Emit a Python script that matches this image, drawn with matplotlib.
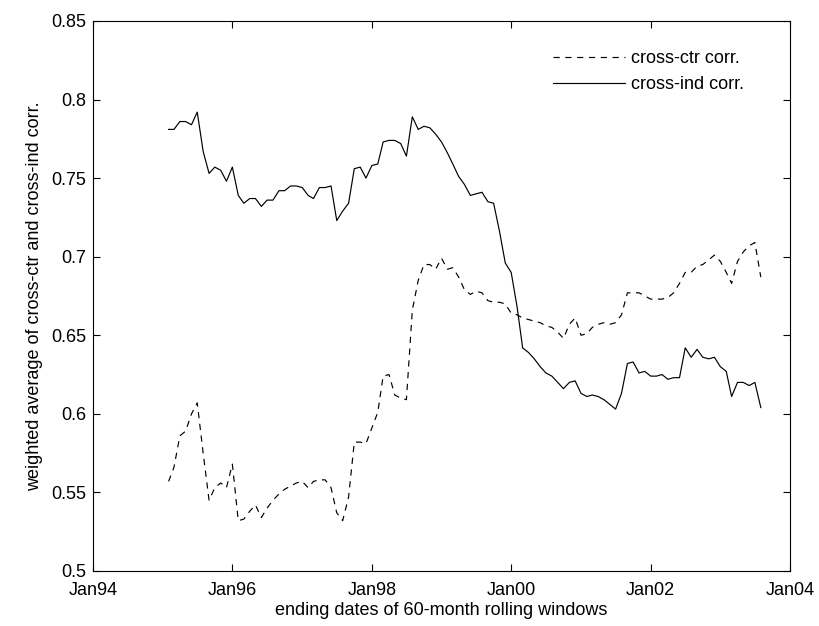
import matplotlib
matplotlib.use("Agg")
import matplotlib.pyplot as plt
import matplotlib.dates as mdates
import numpy as np
import pandas as pd

# monthly window end dates
dates = pd.date_range("1995-02-01", periods=103, freq="MS")

cross_ctr = [
    0.557, 0.566, 0.586, 0.589, 0.600, 0.607, 0.575, 0.545, 0.553, 0.556,
    0.553, 0.568, 0.532, 0.533, 0.538, 0.542, 0.534, 0.540, 0.545, 0.549,
    0.552, 0.554, 0.556, 0.557, 0.553, 0.557, 0.558, 0.558, 0.553, 0.537,
    0.532, 0.547, 0.582, 0.582, 0.581, 0.591, 0.601, 0.624, 0.625, 0.612,
    0.610, 0.609, 0.666, 0.685, 0.695, 0.695, 0.692, 0.699, 0.692, 0.693,
    0.687, 0.679, 0.676, 0.678, 0.677, 0.672, 0.671, 0.671, 0.670, 0.664,
    0.663, 0.661, 0.660, 0.659, 0.658, 0.656, 0.655, 0.652, 0.648, 0.657,
    0.661, 0.650, 0.651, 0.655, 0.657, 0.658, 0.657, 0.658, 0.663, 0.677,
    0.677, 0.677, 0.675, 0.673, 0.673, 0.673, 0.674, 0.677, 0.683, 0.690,
    0.690, 0.694, 0.695, 0.698, 0.701, 0.697, 0.690, 0.683, 0.697, 0.703,
    0.707, 0.709, 0.687,
]

cross_ind = [
    0.781, 0.781, 0.786, 0.786, 0.784, 0.792, 0.767, 0.753, 0.757, 0.755,
    0.748, 0.757, 0.739, 0.734, 0.737, 0.737, 0.732, 0.736, 0.736, 0.742,
    0.742, 0.745, 0.745, 0.744, 0.739, 0.737, 0.744, 0.744, 0.745, 0.723,
    0.729, 0.734, 0.756, 0.757, 0.750, 0.758, 0.759, 0.773, 0.774, 0.774,
    0.772, 0.764, 0.789, 0.781, 0.783, 0.782, 0.778, 0.773, 0.766, 0.759,
    0.751, 0.746, 0.739, 0.740, 0.741, 0.735, 0.734, 0.716, 0.696, 0.690,
    0.668, 0.642, 0.639, 0.635, 0.630, 0.626, 0.624, 0.620, 0.616, 0.620,
    0.621, 0.613, 0.611, 0.612, 0.611, 0.609, 0.606, 0.603, 0.613, 0.632,
    0.633, 0.626, 0.627, 0.624, 0.624, 0.625, 0.622, 0.623, 0.623, 0.642,
    0.636, 0.641, 0.636, 0.635, 0.636, 0.630, 0.627, 0.611, 0.620, 0.620,
    0.618, 0.620, 0.604,
]

y_ticks = np.arange(0.5, 0.851, 0.05)
y_tick_labels = ["0.5", "0.55", "0.6", "0.65", "0.7", "0.75", "0.8", "0.85"]

plt.rcParams["font.family"] = ["Liberation Sans", "DejaVu Sans"]
plt.rcParams["font.size"] = 13
plt.rcParams["lines.scale_dashes"] = False

fig = plt.figure(figsize=(8.19, 6.26), dpi=100)
ax = fig.add_axes([0.1136, 0.0879, 0.851, 0.8786])

ax.plot(dates, cross_ctr, color="black", linewidth=0.85,
        linestyle=(0, (4.5, 4)), label="cross-ctr corr.")
ax.plot(dates, cross_ind, color="black", linewidth=0.85,
        linestyle="-", label="cross-ind corr.")

ax.set_xlim(pd.Timestamp("1994-01-01"), pd.Timestamp("2004-01-01"))
ax.set_ylim(0.5, 0.85)
ax.xaxis.set_major_locator(mdates.YearLocator(2, month=1, day=1))
ax.xaxis.set_major_formatter(mdates.DateFormatter("%b%y"))
ax.set_yticks(y_ticks)
ax.set_yticklabels(y_tick_labels)

ax.tick_params(direction="in", length=5, width=0.8, top=True, right=True,
               labelsize=13)
ax.tick_params(axis="x", pad=8)
ax.tick_params(axis="y", pad=5)
for sp in ax.spines.values():
    sp.set_linewidth(0.8)

ax.set_xlabel("ending dates of 60-month rolling windows", fontsize=13, labelpad=2)
ax.set_ylabel("weighted average of cross-ctr and cross-ind corr.", fontsize=13,
              labelpad=6)

ax.legend(loc="upper right", bbox_to_anchor=(0.975, 1.0), frameon=False,
          handlelength=4.0, handletextpad=0.3, borderaxespad=1.2,
          labelspacing=0.5, fontsize=13)

fig.savefig("out.png", dpi=100)
